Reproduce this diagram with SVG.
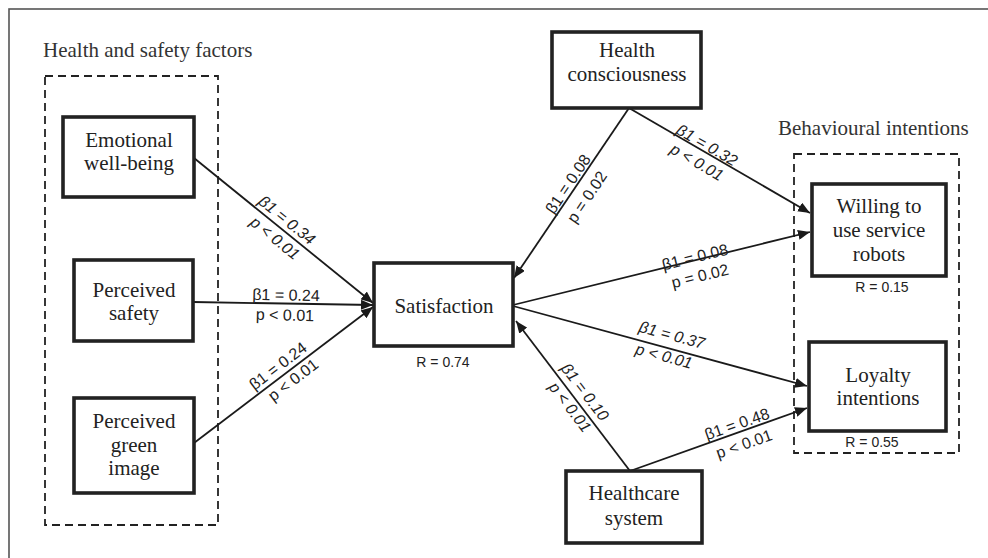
<svg xmlns="http://www.w3.org/2000/svg" width="988" height="558" viewBox="0 0 988 558">
<style>
.frame{fill:none;stroke:#555;stroke-width:1.6}
.dash{fill:none;stroke:#222;stroke-width:1.8;stroke-dasharray:8 5}
.box{fill:#fff;stroke:#222;stroke-width:3.6}
.lbl{font-family:"Liberation Serif","Times New Roman",serif;font-size:21px;fill:#222;text-anchor:middle}
.grp{font-family:"Liberation Serif","Times New Roman",serif;font-size:21px;fill:#333}
.edge{fill:none;stroke:#1a1a1a;stroke-width:1.8}
.el{font-family:"Liberation Sans",Arial,sans-serif;font-size:16px;fill:#222;text-anchor:middle;dominant-baseline:central}
.it{font-style:italic}
.r{font-family:"Liberation Sans",Arial,sans-serif;font-size:14px;fill:#222;text-anchor:middle}
</style>
<defs>
<marker id="arr" viewBox="0 0 12 10" refX="12" refY="5" markerWidth="12" markerHeight="10" markerUnits="userSpaceOnUse" orient="auto">
<path d="M0,0 L12,5 L0,10 z" fill="#1a1a1a"/>
</marker>
</defs>
<rect width="988" height="558" fill="#fff"/>
<rect class="frame" x="9" y="9" width="990" height="560"/>

<g id="group-health-safety">
<text class="grp" x="43" y="57">Health and safety factors</text>
<rect class="dash" x="45" y="76" width="173" height="449"/>
</g>
<g id="group-behavioural">
<text class="grp" x="778" y="135">Behavioural intentions</text>
<rect class="dash" x="794" y="154" width="165" height="299"/>
</g>

<g id="connectors">
<line class="edge" x1="194" y1="158" x2="373" y2="303" marker-end="url(#arr)"/>
<line class="edge" x1="193" y1="302" x2="373" y2="305" marker-end="url(#arr)"/>
<line class="edge" x1="194" y1="443" x2="373" y2="307" marker-end="url(#arr)"/>
<line class="edge" x1="629" y1="108" x2="514" y2="278" marker-end="url(#arr)"/>
<line class="edge" x1="629" y1="108" x2="810" y2="213" marker-end="url(#arr)"/>
<line class="edge" x1="513" y1="305" x2="810" y2="232" marker-end="url(#arr)"/>
<line class="edge" x1="513" y1="306" x2="807" y2="386" marker-end="url(#arr)"/>
<line class="edge" x1="630" y1="471" x2="516" y2="321" marker-end="url(#arr)"/>
<line class="edge" x1="630" y1="471" x2="807" y2="408" marker-end="url(#arr)"/>

<text class="el it" transform="translate(287,220) rotate(39)">β1 = 0.34</text>
<text class="el it" transform="translate(275,238) rotate(39)">p &lt; 0.01</text>
<text class="el" transform="translate(286,295) rotate(1.3)">β1 = 0.24</text>
<text class="el" transform="translate(285,315) rotate(1.3)">p &lt; 0.01</text>
<text class="el" transform="translate(278,366) rotate(-37.3)">β1 = 0.24</text>
<text class="el" transform="translate(293,380) rotate(-37.3)">p &lt; 0.01</text>
<text class="el" transform="translate(568,184) rotate(-56.2)">β1 = 0.08</text>
<text class="el" transform="translate(587,197) rotate(-56.2)">p = 0.02</text>
<text class="el it" transform="translate(707,145) rotate(30)">β1 = 0.32</text>
<text class="el it" transform="translate(697,162) rotate(30)">p &lt; 0.01</text>
<text class="el" transform="translate(695,257) rotate(-13.8)">β1 = 0.08</text>
<text class="el" transform="translate(700,276) rotate(-13.8)">p = 0.02</text>
<text class="el it" transform="translate(672,335) rotate(15)">β1 = 0.37</text>
<text class="el it" transform="translate(664,356) rotate(15)">p &lt; 0.01</text>
<text class="el it" transform="translate(585,392) rotate(52.6)">β1 = 0.10</text>
<text class="el it" transform="translate(570,407) rotate(52.6)">p &lt; 0.01</text>
<text class="el" transform="translate(737,424) rotate(-19.3)">β1 = 0.48</text>
<text class="el" transform="translate(744,444) rotate(-19.3)">p &lt; 0.01</text>
</g>

<g id="node-emotional">
<rect class="box" x="63" y="117" width="131" height="80"/>
<text class="lbl" x="129" y="147">Emotional</text>
<text class="lbl" x="129" y="170">well-being</text>
</g>
<g id="node-safety">
<rect class="box" x="74" y="260" width="119" height="81"/>
<text class="lbl" x="134" y="297">Perceived</text>
<text class="lbl" x="134" y="320">safety</text>
</g>
<g id="node-green">
<rect class="box" x="74" y="398" width="120" height="95"/>
<text class="lbl" x="134" y="428">Perceived</text>
<text class="lbl" x="134" y="452">green</text>
<text class="lbl" x="134" y="475">image</text>
</g>
<g id="node-satisfaction">
<rect class="box" x="374" y="263" width="139" height="83"/>
<text class="lbl" x="444" y="313">Satisfaction</text>
<text class="r" x="443" y="367">R = 0.74</text>
</g>
<g id="node-health-consciousness">
<rect class="box" x="552" y="32" width="149" height="76"/>
<text class="lbl" x="627" y="57">Health</text>
<text class="lbl" x="627" y="81">consciousness</text>
</g>
<g id="node-healthcare-system">
<rect class="box" x="566" y="471" width="136" height="72"/>
<text class="lbl" x="634" y="500">Healthcare</text>
<text class="lbl" x="634" y="525">system</text>
</g>
<g id="node-willing">
<rect class="box" x="812" y="184" width="134" height="92"/>
<text class="lbl" x="879" y="213">Willing to</text>
<text class="lbl" x="879" y="237">use service</text>
<text class="lbl" x="879" y="261">robots</text>
<text class="r" x="882" y="292">R = 0.15</text>
</g>
<g id="node-loyalty">
<rect class="box" x="809" y="342" width="137" height="89"/>
<text class="lbl" x="878" y="382">Loyalty</text>
<text class="lbl" x="878" y="405">intentions</text>
<text class="r" x="872" y="447">R = 0.55</text>
</g>
</svg>
